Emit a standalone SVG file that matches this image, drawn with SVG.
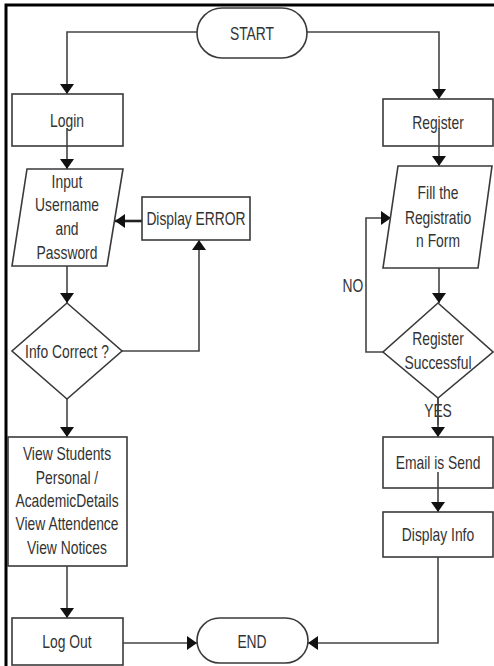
<svg xmlns="http://www.w3.org/2000/svg" width="494" height="666" viewBox="0 0 494 666">
<style>
.box{fill:#fff;stroke:#3a3a3a;stroke-width:1.6}
.ln{fill:none;stroke:#444;stroke-width:1.6}
.thick{fill:none;stroke:#222;stroke-width:2.6}
text{font-family:"Liberation Sans",Arial,sans-serif;font-size:18px;fill:#333;text-anchor:middle;dominant-baseline:central}
</style>
<defs>
<marker id="ah" markerWidth="10" markerHeight="14" viewBox="0 0 10 14" refX="10" refY="7" orient="auto" markerUnits="userSpaceOnUse">
<path d="M0,0 L10,7 L0,14 Z" fill="#111"/>
</marker>
</defs>
<rect width="494" height="666" fill="#fff"/>
<path d="M6,666 V5 H494" fill="none" stroke="#000" stroke-width="3"/>

<g id="connectors">
<path class="ln" d="M197,32 H67 V94" marker-end="url(#ah)"/>
<path class="ln" d="M307,32 H439 V99" marker-end="url(#ah)"/>
<path class="ln" d="M67,128 V169" marker-end="url(#ah)"/>
<path class="ln" d="M439,128 V166" marker-end="url(#ah)"/>
<path class="thick" d="M142,221 H115" marker-end="url(#ah)"/>
<path class="ln" d="M67,266 V303" marker-end="url(#ah)"/>
<path class="ln" d="M122,351 H199 V240" marker-end="url(#ah)"/>
<path class="ln" d="M67,399 V437" marker-end="url(#ah)"/>
<path class="ln" d="M67,566 V618" marker-end="url(#ah)"/>
<path class="ln" d="M123,643 H197" marker-end="url(#ah)"/>
<path class="ln" d="M439,268 V303" marker-end="url(#ah)"/>
<path class="ln" d="M383,352 H366 V218 H391" marker-end="url(#ah)"/>
<path class="ln" d="M438,398 V437" marker-end="url(#ah)"/>
<path class="ln" d="M438,472 V512" marker-end="url(#ah)"/>
<path class="ln" d="M438,557 V643 H308" marker-end="url(#ah)"/>
</g>

<g id="start"><rect class="box" x="197" y="8" width="110" height="50" rx="25"/><text transform="translate(252,33) scale(0.77,1)">START</text></g>
<g id="login"><rect class="box" x="12" y="94" width="111" height="52"/><text transform="translate(67,120) scale(0.77,1)">Login</text></g>
<g id="register"><rect class="box" x="383" y="99" width="110" height="47"/><text transform="translate(438,122) scale(0.77,1)">Register</text></g>
<path class="ln" d="M67,128 V146"/>
<path class="ln" d="M439,128 V146"/>
<g id="input"><path class="box" d="M27,169 H123 L107,266 H12 Z"/>
<text transform="translate(67,181) scale(0.77,1)">Input</text><text transform="translate(67,204) scale(0.77,1)">Username</text><text transform="translate(67,228) scale(0.77,1)">and</text><text transform="translate(67,252) scale(0.77,1)">Password</text></g>
<g id="error"><rect class="box" x="142" y="197" width="108" height="43"/><text transform="translate(196,218) scale(0.77,1)">Display ERROR</text></g>
<g id="info"><path class="box" d="M67,303 L122,351 L67,399 L12,351 Z"/><text transform="translate(67,351) scale(0.77,1)">Info Correct ?</text></g>
<g id="view"><rect class="box" x="8" y="437" width="119" height="129"/>
<text transform="translate(67,453) scale(0.77,1)">View Students</text><text transform="translate(67,477) scale(0.77,1)">Personal /</text><text transform="translate(67,500) scale(0.77,1)">AcademicDetails</text><text transform="translate(67,523) scale(0.77,1)">View Attendence</text><text transform="translate(67,547) scale(0.77,1)">View Notices</text></g>
<g id="logout"><rect class="box" x="12" y="618" width="111" height="47"/><text transform="translate(67,641) scale(0.77,1)">Log Out</text></g>
<g id="end"><rect class="box" x="197" y="618" width="111" height="45" rx="22.5"/><text transform="translate(252,641) scale(0.77,1)">END</text></g>
<g id="fill"><path class="box" d="M398,166 H492 L478,268 H383 Z"/>
<text transform="translate(438,192) scale(0.77,1)">Fill the</text><text transform="translate(438,217) scale(0.77,1)">Registratio</text><text transform="translate(438,240) scale(0.77,1)">n Form</text></g>
<g id="success"><path class="box" d="M438,303 L493,352 L438,398 L383,352 Z"/>
<text transform="translate(438,338) scale(0.77,1)">Register</text><text transform="translate(438,362) scale(0.77,1)">Successful</text></g>
<g id="email"><rect class="box" x="383" y="437" width="110" height="51"/><text transform="translate(438,462) scale(0.77,1)">Email is Send</text></g>
<path class="ln" d="M438,472 V488"/>
<g id="display"><rect class="box" x="383" y="512" width="110" height="45"/><text transform="translate(438,534) scale(0.77,1)">Display Info</text></g>
<g id="labels"><text transform="translate(353,285) scale(0.77,1)">NO</text><text transform="translate(438,410) scale(0.77,1)">YES</text></g>
<path class="ln" d="M438,398 V425"/>
</svg>
